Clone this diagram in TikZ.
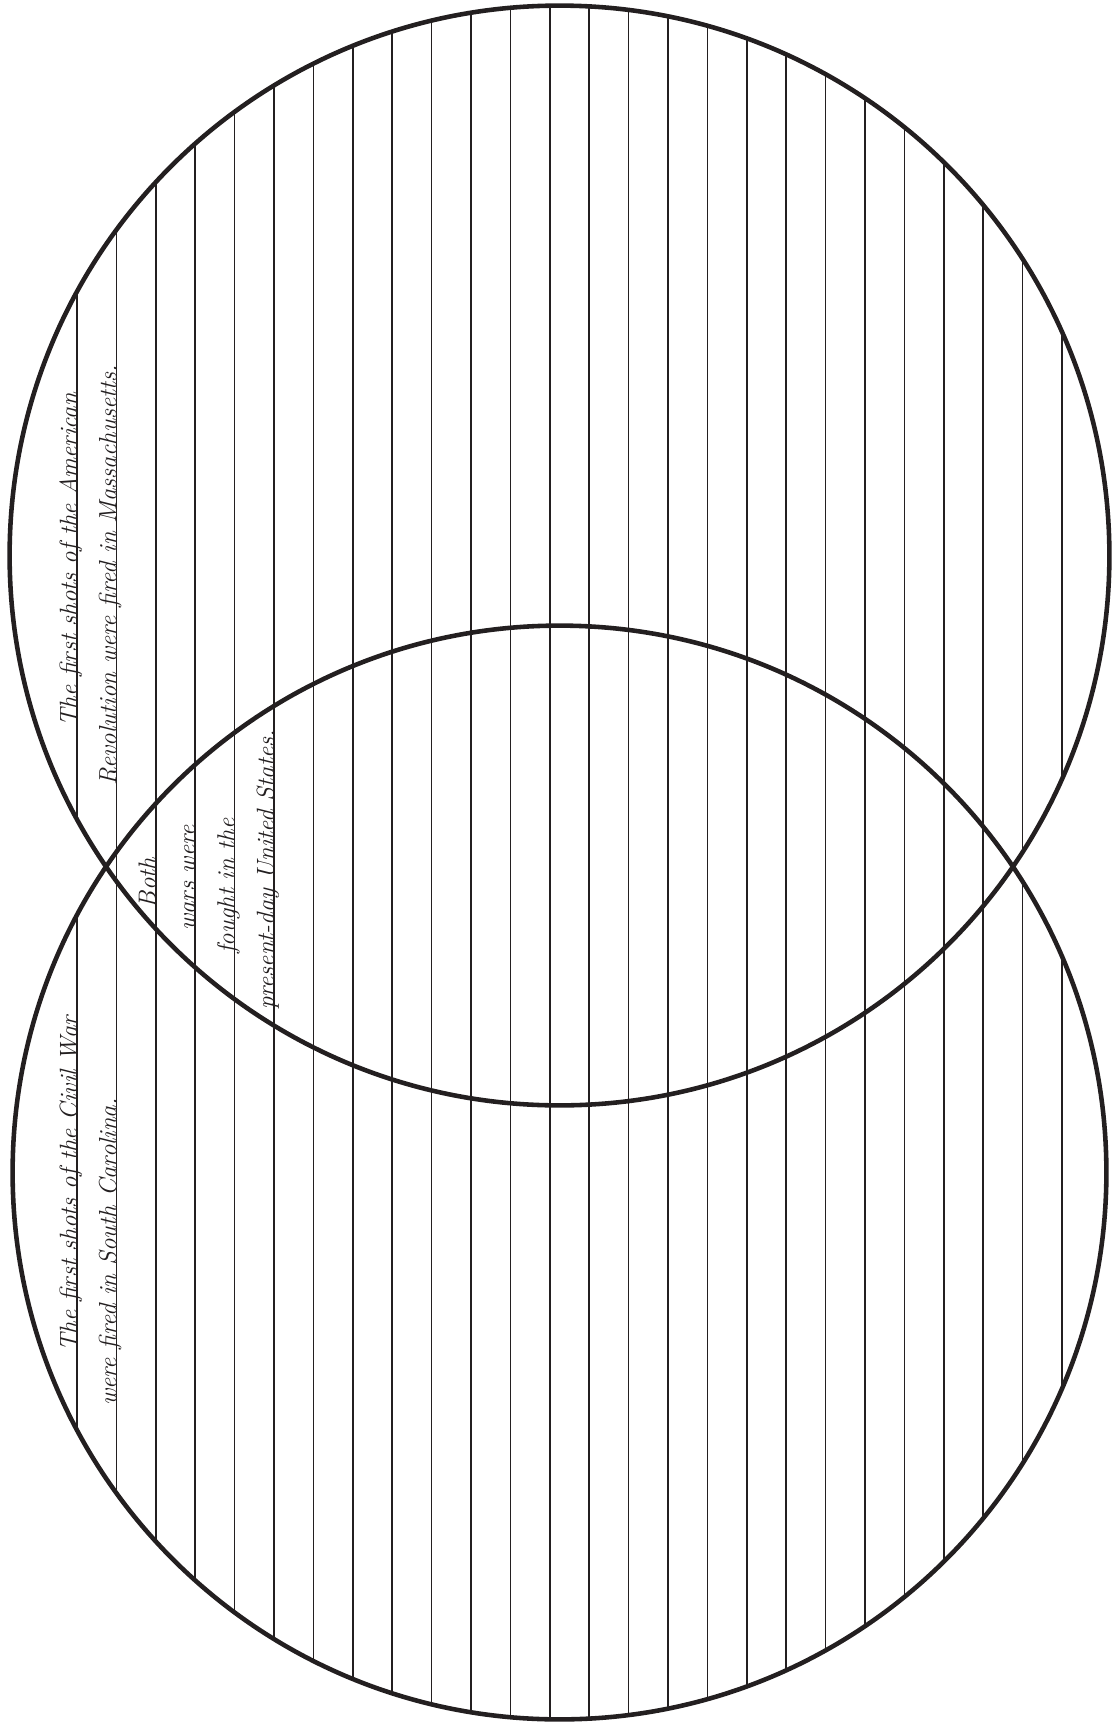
\documentclass[tikz,border=0pt]{standalone}
\usepackage{tikz}
\usepackage{xcolor}
\definecolor{inkblack}{RGB}{35,31,32}
\tikzset{
    ring/.style={draw=inkblack, line width=2.6pt},
    rule/.style={draw=inkblack, line width=0.95pt},
    note/.style={rotate=90, anchor=base, inner sep=0pt, text=inkblack, font=\fontsize{14.2}{16}\selectfont\itshape}
}

\begin{document}
\begin{tikzpicture}[x=0.02cm, y=-0.02cm]
    \useasboundingbox (0,0) rectangle (1119,1727);
    \coordinate (topc) at (559.5,555.5);
    \coordinate (botc) at (559.5,1172.5);
    % writing lines, kept inside the two circles
    \begin{scope}
        \clip (topc) circle (11cm) (botc) circle (10.94cm);
        \foreach \k in {0,...,25}
            \draw[rule] ({77+39.4*\k},0) -- ({77+39.4*\k},1727);
    \end{scope}
    \draw[ring] (topc) circle (11cm);
    \draw[ring] (botc) circle (10.94cm);
    % American Revolution
    \node[note] (amer1) at (77,560) {The first shots of the American};
    \node[note] (amer2) at (116.4,575) {Revolution were fired in Massachusetts.};
    % both wars
    \node[note] (both1) at (155.8,883) {Both};
    \node[note] (both2) at (195.2,878) {wars were};
    \node[note] (both3) at (234.6,886) {fought in the};
    \node[note] (both4) at (274,870) {present-day United States.};
    % Civil War
    \node[note] (civil1) at (77,1184) {The first shots of the Civil War};
    \node[note] (civil2) at (116.4,1252) {were fired in South Carolina.};
\end{tikzpicture}
\end{document}
